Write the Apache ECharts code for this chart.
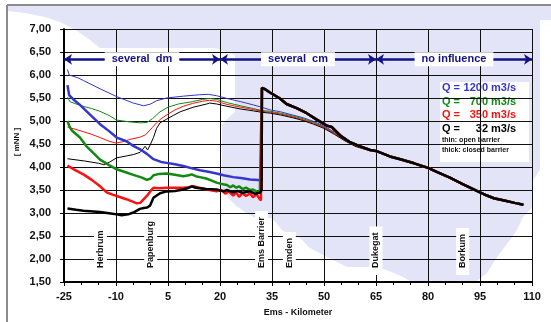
<!DOCTYPE html>
<html>
<head>
<meta charset="utf-8">
<script src="https://cdn.jsdelivr.net/npm/echarts@6/dist/echarts.min.js"></script>
<style>
html, body { margin: 0; padding: 0; background: #fff; }
#chart { width: 551px; height: 322px; }
</style>
</head>
<body>
<div id="chart"></div>
<script>
// water level [mNN] along the Ems, pairs of [km, level]
var blueOpen = [[-24,6.12],[-23.5,6.0],[-21,5.94],[-19.4,5.88],[-14.6,5.70],[-9.8,5.53],[-5,5.39],[-2,5.33],[0,5.37],[1.7,5.44],[4.6,5.50],[9.4,5.54],[14,5.57],[16.6,5.58],[19,5.55],[22,5.49],[26,5.42],[29.6,5.35],[32,5.30],[34.5,5.24],[37.5,5.20],[41,5.13],[44,5.07],[47,4.99],[50,4.89],[53,4.76],[56,4.60],[59,4.48],[62,4.40],[65,4.35]];
var greenOpen = [[-24,5.52],[-23.3,5.42],[-20,5.33],[-17,5.27],[-14.6,5.21],[-12,5.12],[-9.8,5.02],[-6,4.98],[-3,4.96],[-1,4.97],[0.5,5.05],[2.7,5.20],[5,5.30],[8,5.37],[12,5.42],[15,5.47],[17,5.49],[19,5.47],[22,5.40],[26,5.33],[29.6,5.27],[32,5.23],[34.5,5.21],[37.5,5.17],[41,5.11],[44,5.05],[47,4.97],[50,4.87],[53,4.74],[56,4.59],[59,4.47],[62,4.39],[65,4.35]];
var redOpen = [[-24,4.87],[-20.4,4.79],[-17,4.71],[-14.6,4.64],[-12,4.56],[-10,4.52],[-8,4.55],[-6,4.60],[-3,4.65],[-1.5,4.70],[-0.5,4.78],[0.5,4.86],[1.7,4.96],[3,5.05],[5,5.15],[7,5.24],[9.4,5.32],[12,5.38],[15,5.43],[17,5.45],[19,5.43],[22,5.36],[26,5.30],[29.6,5.25],[32,5.21],[34.5,5.19],[37.5,5.15],[41,5.09],[44,5.03],[47,4.95],[50,4.86],[53,4.73],[56,4.58],[59,4.46],[62,4.38],[65,4.35]];
var blackOpen = [[-24,4.18],[-19,4.13],[-15,4.08],[-13.5,4.05],[-12,4.10],[-9.8,4.20],[-7,4.24],[-5,4.27],[-3,4.32],[-1.6,4.45],[-0.9,4.37],[-0.2,4.47],[0.8,4.64],[1.7,4.84],[2.7,4.96],[4.6,5.04],[6.5,5.12],[8.5,5.20],[12.3,5.30],[16.2,5.37],[17,5.39],[19,5.37],[22,5.32],[26,5.26],[29.6,5.22],[32,5.19],[34.5,5.17],[37.5,5.13],[41,5.07],[44,5.01],[47,4.93],[50,4.84],[53,4.71],[56,4.57],[59,4.45],[62,4.38],[65,4.35]];

var blueClosed = [[-24,5.78],[-23.5,5.56],[-22,5.45],[-20.4,5.35],[-17.5,5.14],[-14.6,4.93],[-12,4.78],[-9.8,4.64],[-7,4.56],[-5,4.46],[-2.5,4.36],[-1,4.28],[0.8,4.17],[3,4.11],[4.6,4.09],[7,4.06],[9.4,4.02],[12,3.97],[14.2,3.93],[17,3.89],[19,3.86],[21,3.82],[23.8,3.78],[26,3.76],[28.7,3.73],[32,3.71]];
var greenClosed = [[-24,5.0],[-23.3,4.86],[-22.8,4.80],[-20.4,4.64],[-18.5,4.45],[-16.5,4.30],[-14.6,4.16],[-12,4.04],[-9.8,3.95],[-7,3.88],[-5,3.83],[-2.5,3.77],[-1.1,3.72],[0,3.75],[0.8,3.82],[2.5,3.85],[4.6,3.86],[7,3.83],[9.4,3.80],[11,3.82],[11.8,3.84],[13,3.80],[14.2,3.78],[16,3.75],[17.1,3.72],[19,3.66],[20.5,3.63],[22,3.61],[23,3.56],[23.8,3.60],[24.7,3.55],[25.5,3.58],[26.5,3.52],[27.5,3.55],[28.7,3.50],[29.5,3.51],[30.5,3.47],[31.5,3.47],[32,3.49]];
var redClosed = [[-24,4.03],[-21.5,3.92],[-19.4,3.84],[-17,3.72],[-14.6,3.58],[-12.7,3.45],[-11,3.40],[-9.8,3.37],[-7,3.30],[-5,3.24],[-4,3.21],[-3,3.22],[-1.1,3.37],[0,3.48],[0.8,3.55],[2.5,3.54],[4.6,3.55],[7,3.55],[9.4,3.55],[11,3.56],[12.3,3.58],[14,3.55],[16.2,3.51],[19,3.47],[20.5,3.50],[21.5,3.42],[22.5,3.47],[23.8,3.38],[24.7,3.45],[25.5,3.35],[26.5,3.43],[27.5,3.37],[28.7,3.43],[29.5,3.34],[30.5,3.41],[31.2,3.33],[31.8,3.27],[32,3.30]];
var blackClosed = [[-24,3.10],[-21.5,3.07],[-19.4,3.05],[-14.6,3.02],[-11.5,2.99],[-9.8,2.97],[-8.4,2.95],[-6.5,2.97],[-5,3.01],[-3.1,3.09],[-2,3.11],[-1,3.12],[-0.2,3.16],[0.8,3.33],[2.7,3.43],[4.6,3.47],[7,3.48],[9.4,3.51],[11,3.55],[11.8,3.58],[13,3.55],[14.2,3.54],[16,3.52],[19,3.51],[21,3.47],[22,3.50],[23.8,3.45],[25,3.48],[26.5,3.44],[28.7,3.47],[30,3.42],[31.5,3.44],[32,3.50]];

// closed barrier: jump at the barrier and run down to km 65
var closedTail = [[32.1,5.72],[32.8,5.70],[34.4,5.62],[37.3,5.49],[39.2,5.37],[42.1,5.28],[45,5.17],[47.9,5.03],[50.8,4.90],[52.2,4.87],[54.6,4.69],[57.5,4.54],[60.4,4.45],[63.3,4.37],[65,4.35]];
// all lines together from km 65 to the sea
var seaward = [[65,4.35],[69,4.23],[72,4.17],[76,4.08],[80,3.98],[83,3.88],[86.3,3.77],[90,3.63],[95,3.45],[97,3.38],[99,3.32],[102,3.27],[105,3.22],[107.5,3.18]];

var placeNames = ['Herbrum', 'Papenburg', 'Ems Barrier', 'Emden', 'Dukegat', 'Borkum'];
var placeKm = [-14.5, 0, 32, 40, 65, 90];

var zoneNames = ['several  dm', 'several  cm', 'no influence'];
var zoneFrom = [-25, 20, 65];
var zoneTo = [20, 65, 110];
var zoneLevel = 6.34;

var flows = ['1200', '700', '350', '32'];

var BLUE = '#3535cf', GREEN = '#128a12', RED = '#ff1010', BLACK = '#000000', NAVY = '#12128a';
var SEA = '#e4e4f8';
var FONT = '"Liberation Sans", Arial, sans-serif';

var mapShape = [[7,6],[551,6],[551,20],[540,20],[540,170],[533,180],[533,207],[523,217],[517,230],[510,240],[497,257],[487,273],[477,281],[410,281],[403,277],[387,270],[370,267],[347,267],[327,257],[310,248],[300,238],[283,231],[272,218],[255,218],[245,212],[235,205],[228,197],[222,190],[222,125],[228,118],[235,112],[235,55],[215,48],[100,48],[90,40],[80,33],[70,27],[60,22],[45,17],[25,13],[7,11]];

function level(name, color, width, pts) {
    return {
        type: 'line', name: name, data: pts, symbol: 'none',
        lineStyle: { color: color, width: width },
        itemStyle: { color: color },
        animation: false, silent: true
    };
}

var chart = echarts.init(document.getElementById('chart'));

var series = [
    level('1200 open', BLUE, 1, blueOpen.concat(seaward)),
    level('700 open', GREEN, 1, greenOpen.concat(seaward)),
    level('350 open', RED, 1, redOpen.concat(seaward)),
    level('32 open', BLACK, 1, blackOpen.concat(seaward)),
    level('1200 closed', BLUE, 2.5, blueClosed.concat(closedTail, seaward)),
    level('700 closed', GREEN, 2.5, greenClosed.concat(closedTail, seaward)),
    level('350 closed', RED, 2.5, redClosed.concat(closedTail, seaward)),
    level('32 closed', BLACK, 2.5, blackClosed.concat(closedTail, seaward))
];

// place names on the river, plus the zone arrows
series.push({
    type: 'custom',
    name: 'places',
    silent: true,
    animation: false,
    z: 1,
    data: placeKm.map(function (k) { return [k, 1.5]; }),
    renderItem: function (params, api) {
        var p = api.coord([api.value(0), api.value(1)]);
        return {
            type: 'text',
            x: p[0], y: p[1] - 7,
            rotation: Math.PI / 2,
            style: {
                text: placeNames[params.dataIndex],
                font: 'bold 9px ' + FONT,
                fill: '#111',
                align: 'left', verticalAlign: 'middle',
                backgroundColor: '#fff',
                padding: [2, 6, 2, 7]
            }
        };
    },
    markLine: {
        silent: true,
        animation: false,
        symbol: ['arrow', 'arrow'],
        symbolSize: 8,
        lineStyle: { color: NAVY, width: 2.5, type: 'solid' },
        label: {
            show: true,
            position: 'insideMiddle',
            color: NAVY,
            fontFamily: FONT,
            fontWeight: 'bold',
            fontSize: 11,
            backgroundColor: '#fff',
            padding: [2, 7, 1, 7],
            formatter: function (p) { return p.name; }
        },
        data: zoneNames.map(function (n, i) {
            return [{ name: n, coord: [zoneFrom[i], zoneLevel] }, { coord: [zoneTo[i], zoneLevel] }];
        })
    }
});

var qColors = [BLUE, GREEN, RED, BLACK];
var legendKids = [{ type: 'rect', shape: { x: 0, y: 0, width: 89, height: 80 }, style: { fill: '#fff' } }];
flows.forEach(function (q, i) {
    var y = 6 + i * 13.7;
    var st = { font: 'bold 11px ' + FONT, fill: qColors[i], verticalAlign: 'middle' };
    legendKids.push({ type: 'text', x: 2, y: y, style: Object.assign({ text: 'Q =', align: 'left' }, st) });
    legendKids.push({ type: 'text', x: 48, y: y, style: Object.assign({ text: q, align: 'right' }, st) });
    legendKids.push({ type: 'text', x: 51, y: y, style: Object.assign({ text: 'm3/s', align: 'left' }, st) });
});
legendKids.push({ type: 'text', x: 2, y: 58, style: { text: 'thin: open barrier', font: 'bold 7px ' + FONT, fill: '#111', verticalAlign: 'middle' } });
legendKids.push({ type: 'text', x: 2, y: 68, style: { text: 'thick: closed barrier', font: 'bold 7px ' + FONT, fill: '#111', verticalAlign: 'middle' } });

chart.setOption({
    animation: false,
    backgroundColor: '#fff',
    grid: { left: 64, right: 19, top: 29, bottom: 34 },
    xAxis: {
        type: 'value', min: -25, max: 110, interval: 15,
        name: 'Ems - Kilometer', nameLocation: 'middle', nameGap: 26,
        nameTextStyle: { fontFamily: FONT, fontWeight: 'bold', fontSize: 9, color: '#111' },
        axisLine: { show: true, onZero: false, lineStyle: { color: '#000', width: 2 } },
        axisTick: { show: true, length: 4, lineStyle: { color: '#000' } },
        minorTick: { show: true, splitNumber: 3, length: 3, lineStyle: { color: '#000' } },
        splitLine: { show: true, lineStyle: { color: '#111', width: 1 } },
        axisLabel: { fontFamily: FONT, fontWeight: 'bold', fontSize: 11, color: '#111', margin: 9 }
    },
    yAxis: {
        type: 'value', min: 1.5, max: 7, interval: 0.5,
        axisLine: { show: true, onZero: false, lineStyle: { color: '#000', width: 2 } },
        axisTick: { show: true, length: 4, lineStyle: { color: '#000' } },
        splitLine: { show: true, lineStyle: { color: '#111', width: 1 } },
        axisLabel: {
            fontFamily: FONT, fontWeight: 'bold', fontSize: 11, color: '#111', margin: 13,
            formatter: function (v) { return v.toFixed(2).replace('.', ','); }
        }
    },
    graphic: [
        { type: 'polygon', z: -10, silent: true, shape: { points: mapShape }, style: { fill: SEA } },
        { type: 'line', z: -9, silent: true, shape: { x1: 7, y1: 5, x2: 551, y2: 5 }, style: { stroke: '#8c8c8c', lineWidth: 2 } },
        { type: 'line', z: -9, silent: true, shape: { x1: 7, y1: 5, x2: 7, y2: 322 }, style: { stroke: '#8c8c8c', lineWidth: 2 } },
        { type: 'text', x: 17, y: 142, rotation: Math.PI / 2, silent: true,
          style: { text: '[ mNN ]', font: 'bold 8px ' + FONT, fill: '#111', align: 'center', verticalAlign: 'middle' } },
        { type: 'group', x: 440, y: 82, z: 100, silent: true, children: legendKids }
    ],
    series: series
});
</script>
</body>
</html>
